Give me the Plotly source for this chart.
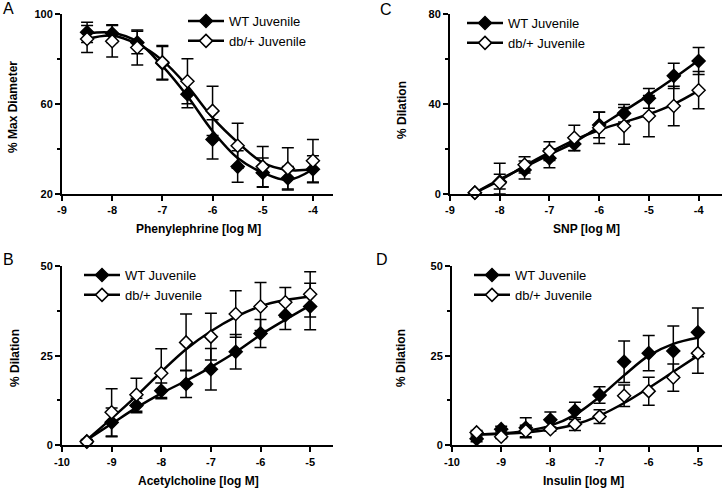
import plotly.graph_objects as go

# A: phenylephrine (% max diameter)
pe_dose = [-8.5, -8, -7.5, -7, -6.5, -6, -5.5, -5, -4.5, -4]
pe_wt = [92, 91.4, 87.4, 78.2, 64.4, 44.3, 32.2, 29.5, 27, 31]
pe_wt_err = [4.5, 4, 5, 7.5, 6, 8.7, 7, 6.5, 5.2, 6]
pe_db = [89, 88, 85.2, 78.6, 70.2, 57, 41.5, 32.2, 31.4, 34.8]
pe_db_err = [6, 7, 7.8, 7.5, 10, 11, 10, 9, 9.2, 9.5]
pe_wt_fit = [91.5, 91.8, 87.8, 77, 63.5, 48, 36, 29.5, 26.2, 31]
pe_db_fit = [89, 90.5, 86.8, 79.5, 68, 54, 43, 34, 30.7, 31]

# C: SNP (% dilation)
snp_dose = [-8.5, -8, -7.5, -7, -6.5, -6, -5.5, -5, -4.5, -4]
snp_wt = [0.6, 5.5, 10.7, 15.9, 22.3, 30.7, 35.9, 42.6, 52.6, 59.2]
snp_wt_err = [0, 3.3, 4, 4.2, 3, 5.7, 3.9, 4.4, 5.6, 6]
snp_db = [0.6, 5, 13, 19.1, 25, 29.5, 30.3, 34.7, 39.2, 46.2]
snp_db_err = [0, 8.7, 3.6, 4.2, 5.6, 7, 8.2, 9.2, 8.8, 8.3]
snp_wt_fit = [0.5, 6.5, 12, 17.5, 23, 30, 37, 44, 51.5, 59.5]
snp_db_fit = [0.5, 6, 12.5, 18.5, 24, 28.5, 32, 35.5, 40, 46]

# B: acetylcholine (% dilation)
ach_dose = [-9.5, -9, -8.5, -8, -7.5, -7, -6.5, -6, -5.5, -5]
ach_wt = [1.1, 6.4, 11.1, 15.2, 17.1, 21.2, 26.1, 31.2, 36.3, 38.7]
ach_wt_err = [0.5, 4, 2, 2.2, 3.8, 5.8, 4.8, 3.9, 4, 6.5]
ach_db = [1, 9.2, 14.1, 20.1, 28.7, 30.3, 36.6, 38.7, 39.9, 42.1]
ach_db_err = [0.5, 6.6, 4.6, 6.8, 7.9, 6.5, 6.5, 6.7, 4.1, 6.3]
ach_wt_fit = [1.5, 6, 10.5, 14.5, 18, 21.8, 26, 30.8, 35, 39]
ach_db_fit = [1.5, 7.5, 13.8, 20.5, 26.8, 31.8, 35.8, 38.8, 40.5, 41.5]

# D: insulin (% dilation)
ins_dose = [-9.5, -9, -8.5, -8, -7.5, -7, -6.5, -6, -5.5, -5]
ins_wt = [1.8, 4.5, 4.9, 7.1, 9.6, 14, 23.3, 25.7, 26.3, 31.5]
ins_wt_err = [0.8, 0.8, 2.8, 2.2, 2.4, 2.3, 5.8, 4.9, 7, 6.8]
ins_db = [3.6, 2.4, 4, 4.5, 5.9, 8, 13.8, 15.1, 18.9, 25.7]
ins_db_err = [0.5, 0.5, 1.6, 0.6, 1.8, 1.9, 3, 3.9, 3.8, 5.6]
ins_wt_fit = [3, 3.3, 4, 5.5, 8.5, 13.5, 19.5, 25, 28.3, 30]
ins_db_fit = [3, 3.2, 3.6, 4.4, 5.8, 8.3, 11.8, 16, 20.5, 25]

# tick labels (hyphen minus like the original)
x_ticks_a = [-9, -8, -7, -6, -5, -4]
x_ticks_b = [-10, -9, -8, -7, -6, -5]

FONT = "Arial, Liberation Sans, sans-serif"
W, H = 722, 489

fig = go.Figure()


def add_panel(n, dose, wt, wt_err, db, db_err, wt_fit, db_fit, ymin):
    sfx = "" if n == 1 else str(n)
    xa, ya, lg = "x" + sfx, "y" + sfx, "legend" + sfx
    for fit in (wt_fit, db_fit):
        fig.add_trace(go.Scatter(x=dose, y=fit, mode="lines", xaxis=xa, yaxis=ya,
                                 line=dict(color="black", width=2.5, shape="spline", smoothing=1),
                                 showlegend=False, hoverinfo="skip"))
    for name, y, err, fill in (("WT Juvenile", wt, wt_err, "black"),
                               ("db/+ Juvenile", db, db_err, "white")):
        minus = [min(e, v - ymin) for e, v in zip(err, y)]
        fig.add_trace(go.Scatter(
            x=dose, y=y, mode="markers", xaxis=xa, yaxis=ya, showlegend=False,
            cliponaxis=False,
            marker=dict(symbol="diamond", size=10, color=fill, line=dict(color="black", width=1.5)),
            error_y=dict(type="data", array=err, arrayminus=minus, symmetric=False,
                         color="black", thickness=1.5, width=6)))
        # legend entry (line + marker)
        fig.add_trace(go.Scatter(
            x=[None], y=[None], mode="lines+markers", name=name, xaxis=xa, yaxis=ya, legend=lg,
            line=dict(color="black", width=2.5),
            marker=dict(symbol="diamond", size=10, color=fill, line=dict(color="black", width=1.5))))


add_panel(1, pe_dose, pe_wt, pe_wt_err, pe_db, pe_db_err, pe_wt_fit, pe_db_fit, 20)
add_panel(2, ach_dose, ach_wt, ach_wt_err, ach_db, ach_db_err, ach_wt_fit, ach_db_fit, 0)
add_panel(3, snp_dose, snp_wt, snp_wt_err, snp_db, snp_db_err, snp_wt_fit, snp_db_fit, 0)
add_panel(4, ins_dose, ins_wt, ins_wt_err, ins_db, ins_db_err, ins_wt_fit, ins_db_fit, 0)

tickfont = dict(family=FONT, size=11, color="black", weight="bold")
common = dict(showline=True, linewidth=2, linecolor="black", ticks="outside", ticklen=5,
              tickwidth=2, tickcolor="black", showgrid=False, zeroline=False,
              tickfont=tickfont, fixedrange=True, automargin=False)


def xaxis(x0, x1, r0, r1, ticks, anchor):
    return dict(domain=[x0 / W, x1 / W], range=[r0, r1], tickvals=ticks,
                ticktext=[str(t) for t in ticks], anchor=anchor, **common)


def yaxis(top, bottom, r0, r1, dt, anchor):
    return dict(domain=[(H - bottom) / H, (H - top) / H], range=[r0, r1], dtick=dt, tick0=r0,
                anchor=anchor,
                minor=dict(dtick=dt / 2, ticks="outside", ticklen=3, tickwidth=2, tickcolor="black"),
                **common)


def legend(x, y):
    return dict(x=x / W, y=(H - y) / H, xanchor="left", yanchor="top",
                font=dict(family=FONT, size=13, color="black"),
                bgcolor="rgba(0,0,0,0)", itemwidth=36, tracegroupgap=0)


def label(text, x, y, size=12, bold=True, angle=0):
    return dict(text=text, x=x / W, y=(H - y) / H, xref="paper", yref="paper",
                showarrow=False, textangle=angle, xanchor="center", yanchor="middle",
                font=dict(family=FONT, size=size, color="black", weight="bold" if bold else "normal"))


fig.update_layout(
    width=W, height=H, margin=dict(l=0, r=0, t=0, b=0, autoexpand=False),
    paper_bgcolor="white", plot_bgcolor="white",
    xaxis=xaxis(62, 333, -9, -3.6, x_ticks_a, "y"), yaxis=yaxis(14.3, 194, 20, 100, 40, "x"),
    xaxis2=xaxis(62, 333, -10, -4.54, x_ticks_b, "y2"), yaxis2=yaxis(266, 445.3, 0, 50, 25, "x2"),
    xaxis3=xaxis(450, 722, -9, -3.53, x_ticks_a, "y3"), yaxis3=yaxis(14.3, 194, 0, 80, 40, "x3"),
    xaxis4=xaxis(452, 722, -10, -4.51, x_ticks_b, "y4"), yaxis4=yaxis(266, 445.3, 0, 50, 25, "x4"),
    legend=legend(183, 6), legend2=legend(79, 260),
    legend3=legend(462, 8), legend4=legend(469, 260),
    annotations=[
        label("A", 8, 8, 16, False), label("B", 8, 259, 16, False),
        label("C", 386, 9, 16, False), label("D", 382, 259, 16, False),
        label("% Max Diameter", 13, 107, angle=-90),
        label("% Dilation", 402, 110, angle=-90),
        label("% Dilation", 15, 358, angle=-90),
        label("% Dilation", 401, 358, angle=-90),
        label("Phenylephrine [log M]", 198, 229),
        label("SNP [log M]", 586, 229),
        label("Acetylcholine [log M]", 198, 481),
        label("Insulin [log M]", 583, 481),
    ],
)

fig.write_html("out.html", config={"displayModeBar": False},
               post_script="document.body.style.margin='0';document.body.style.overflow='hidden';")
